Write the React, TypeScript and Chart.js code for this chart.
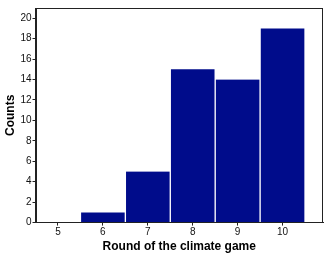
import React, { useEffect, useRef } from "react";
import { Chart, registerables } from "chart.js";

Chart.register(...registerables);

const rounds = [5, 6, 7, 8, 9, 10];
const counts = [0, 1, 5, 15, 14, 19];
const yTicks = [0, 2, 4, 6, 8, 10, 12, 14, 16, 18, 20];

const frame = {
  id: "frame",
  afterDraw(chart: any) {
    const { ctx, chartArea } = chart;
    ctx.save();
    ctx.strokeStyle = "#222";
    ctx.lineWidth = 1;
    ctx.strokeRect(
      Math.round(chartArea.left) + 0.5,
      Math.round(chartArea.top) + 0.5,
      Math.round(chartArea.right - chartArea.left) - 1,
      Math.round(chartArea.bottom - chartArea.top) - 1
    );
    ctx.restore();
  },
};

export default function App() {
  const ref = useRef<HTMLCanvasElement>(null);
  useEffect(() => {
    document.body.style.margin = "0";
    const chart = new Chart(ref.current!, {
      type: "bar",
      data: {
        datasets: [
          {
            data: rounds.map((r, i) => ({ x: r, y: counts[i] })),
            backgroundColor: "#000c8b",
            borderColor: "#ffffff",
            borderWidth: { top: 0, left: 1, right: 1, bottom: 0 },
            barPercentage: 1,
            categoryPercentage: 1,
          },
        ],
      },
      options: {
        animation: false,
        responsive: false,
        layout: { padding: { left: 1, top: 8, right: 9, bottom: 3 } },
        plugins: { legend: { display: false }, tooltip: { enabled: false } },
        scales: {
          x: {
            type: "linear",
            offset: false,
            min: 4.5,
            max: 10.9,
            afterBuildTicks: (axis: any) => {
              axis.ticks = rounds.map((v) => ({ value: v }));
            },
            grid: { drawOnChartArea: false, offset: false, color: "#222", tickLength: 3 },
            border: { color: "#222" },
            ticks: { color: "#111", font: { family: "Liberation Sans", size: 10 }, padding: 1, maxRotation: 0 },
            title: {
              display: true,
              text: "Round of the climate game",
              color: "#000",
              font: { family: "Liberation Sans", size: 12, weight: "bold" },
              padding: { top: 0, bottom: 0 },
            },
          },
          y: {
            min: 0,
            max: 21,
            afterBuildTicks: (axis: any) => {
              axis.ticks = yTicks.map((v) => ({ value: v }));
            },
            grid: { drawOnChartArea: false, color: "#222", tickLength: 3 },
            border: { color: "#222" },
            ticks: { color: "#111", font: { family: "Liberation Sans", size: 10 }, padding: 1 },
            title: {
              display: true,
              text: "Counts",
              color: "#000",
              font: { family: "Liberation Sans", size: 12, weight: "bold" },
              padding: { top: 2, bottom: 2 },
            },
          },
        },
      },
      plugins: [frame],
    });
    return () => chart.destroy();
  }, []);
  return <canvas ref={ref} width={332} height={257} style={{ display: "block" }} />;
}
